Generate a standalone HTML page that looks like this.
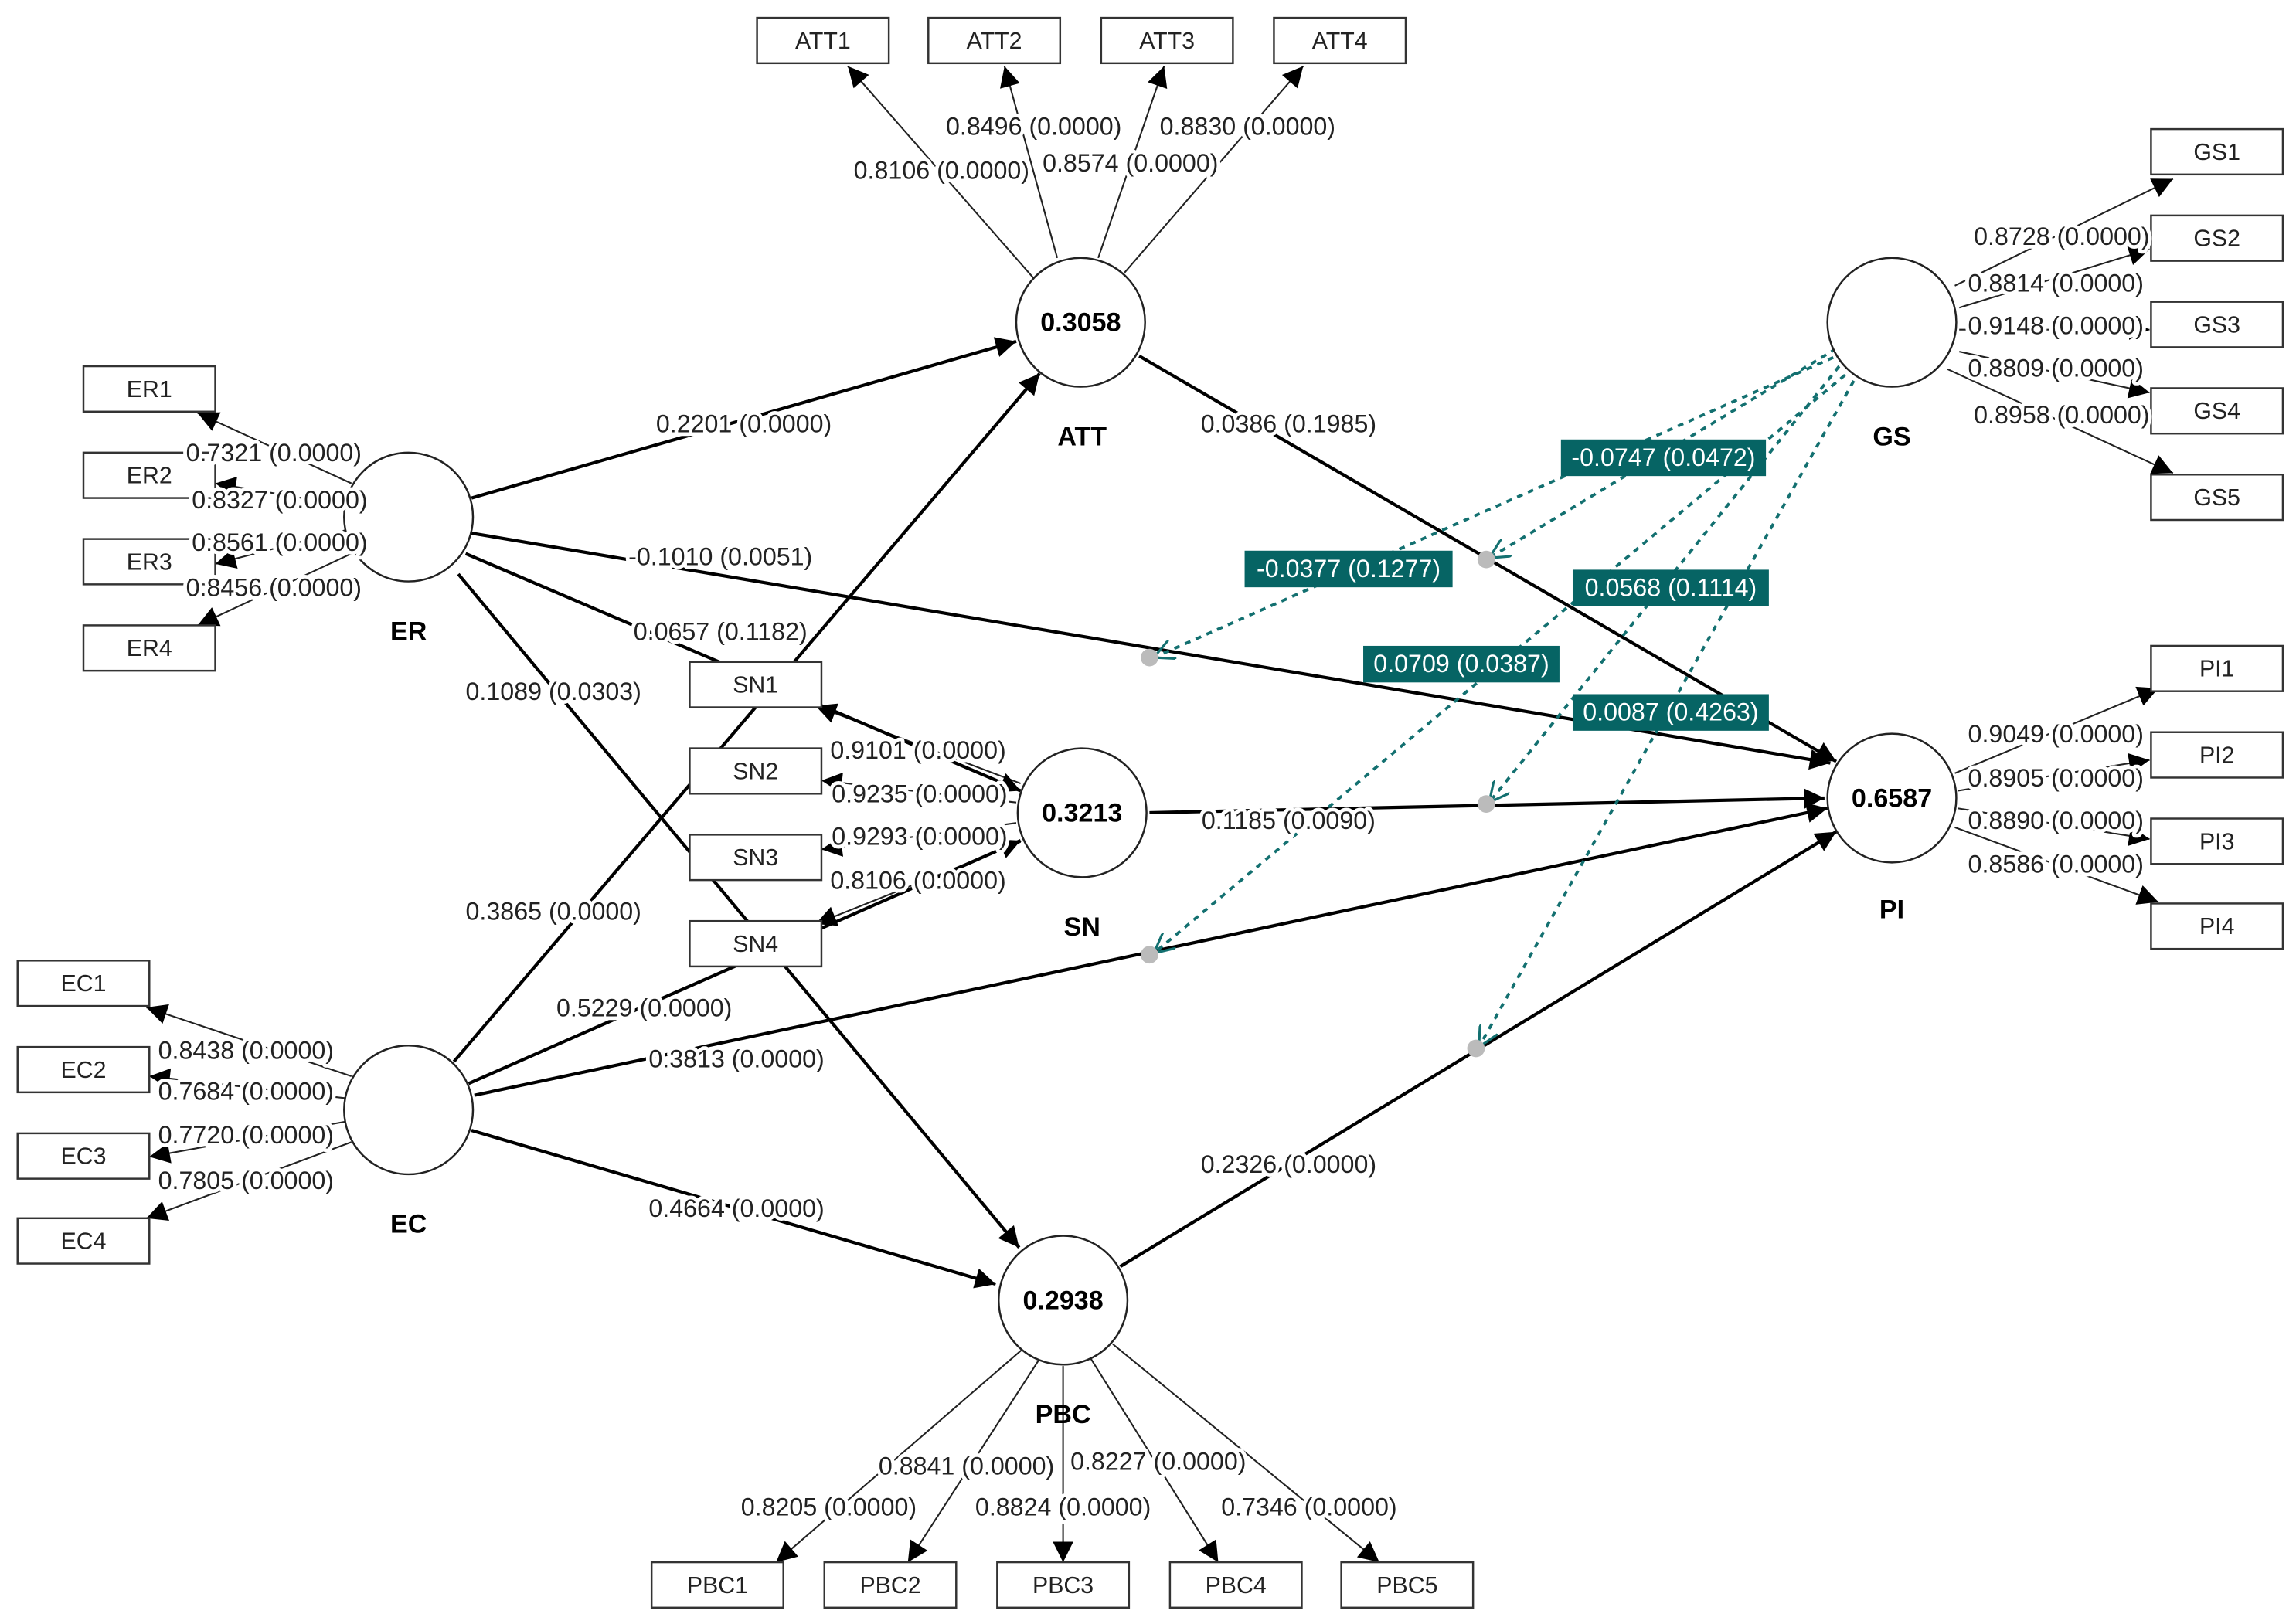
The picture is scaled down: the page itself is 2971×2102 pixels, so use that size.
<!DOCTYPE html>
<html><head><meta charset="utf-8"><style>
html,body{margin:0;padding:0;background:#fff;}
svg{display:block;}
text{font-family:"Liberation Sans",sans-serif;}
.l{font-size:17px;fill:#222;text-anchor:middle;paint-order:stroke;stroke:#fff;stroke-width:5px;stroke-linejoin:round;}
.b{font-size:16px;fill:#222;text-anchor:middle;}
.n{font-size:18px;font-weight:bold;fill:#000;text-anchor:middle;}
.t{font-size:17px;fill:#fff;text-anchor:middle;}
.e{stroke:#000;stroke-width:2.2;fill:none;}
.o{stroke:#222;stroke-width:1.1;fill:none;}
.d{stroke:#137070;stroke-width:2;stroke-dasharray:4 4;fill:none;}
</style></head><body>
<svg width="2971" height="2102" viewBox="0 0 1568 1109" xmlns="http://www.w3.org/2000/svg">
<defs>
<marker id="A" viewBox="0 0 10 10" refX="10" refY="5" markerWidth="16" markerHeight="14" orient="auto" markerUnits="userSpaceOnUse"><path d="M0,0L10,5L0,10z" fill="#000"/></marker>
<marker id="s" viewBox="0 0 10 10" refX="10" refY="5" markerWidth="14" markerHeight="14" orient="auto" markerUnits="userSpaceOnUse"><path d="M0,0L10,5L0,10" fill="none" stroke="#137070" stroke-width="1.2"/></marker>
</defs>
<g class="o" marker-end="url(#A)">
<line x1="722" y1="176" x2="686" y2="45"/>
<line x1="750" y1="176" x2="795" y2="45"/>
<line x1="768" y1="186" x2="890" y2="45"/>
<line x1="706" y1="190" x2="579" y2="45"/>
<line x1="1335" y1="195" x2="1484" y2="122"/>
<line x1="1338" y1="210" x2="1468" y2="170"/>
<line x1="1338" y1="225" x2="1468" y2="225"/>
<line x1="1338" y1="240" x2="1468" y2="268"/>
<line x1="1330" y1="252" x2="1484" y2="323"/>
<line x1="1335" y1="528" x2="1474" y2="470"/>
<line x1="1337" y1="540" x2="1468" y2="519"/>
<line x1="1337" y1="552" x2="1468" y2="573"/>
<line x1="1335" y1="565" x2="1474" y2="616"/>
<line x1="240" y1="330" x2="135" y2="282"/>
<line x1="236" y1="345" x2="147" y2="330"/>
<line x1="236" y1="362" x2="147" y2="385"/>
<line x1="240" y1="378" x2="135" y2="427"/>
<line x1="240" y1="735" x2="100" y2="688"/>
<line x1="236" y1="750" x2="102" y2="735"/>
<line x1="236" y1="766" x2="102" y2="790"/>
<line x1="240" y1="780" x2="100" y2="832"/>
<line x1="697" y1="535" x2="557" y2="482"/>
<line x1="694" y1="548" x2="561" y2="533"/>
<line x1="694" y1="562" x2="561" y2="580"/>
<line x1="697" y1="575" x2="557" y2="631"/>
<line x1="700" y1="920" x2="530" y2="1067"/>
<line x1="710" y1="928" x2="620" y2="1067"/>
<line x1="726" y1="933" x2="726" y2="1067"/>
<line x1="745" y1="928" x2="832" y2="1067"/>
<line x1="760" y1="918" x2="942" y2="1067"/>
</g>
<g class="e" marker-end="url(#A)">
<line x1="322" y1="340" x2="694" y2="233"/>
<line x1="322" y1="364" x2="1250" y2="521"/>
<line x1="318" y1="378" x2="697" y2="540"/>
<line x1="313" y1="392" x2="696" y2="852"/>
<line x1="310" y1="725" x2="710" y2="255"/>
<line x1="320" y1="740" x2="697" y2="574"/>
<line x1="324" y1="748" x2="1248" y2="552"/>
<line x1="322" y1="772" x2="680" y2="877"/>
<line x1="778" y1="243" x2="1254" y2="520"/>
<line x1="785" y1="555" x2="1246" y2="545"/>
<line x1="765" y1="865" x2="1254" y2="568"/>
</g>
<g class="d" marker-end="url(#s)">
<line x1="1254" y1="238" x2="1017" y2="381"/>
<line x1="1252" y1="244" x2="788" y2="449"/>
<line x1="1256" y1="250" x2="1017" y2="548"/>
<line x1="1260" y1="256" x2="788" y2="651"/>
<line x1="1266" y1="260" x2="1010" y2="715"/>
</g>
<g fill="#bbb"><circle cx="1015" cy="382" r="6"/><circle cx="785" cy="449" r="6"/><circle cx="1015" cy="549" r="6"/><circle cx="785" cy="652" r="6"/><circle cx="1008" cy="716" r="6"/></g>
<g fill="#fff" stroke="#222" stroke-width="1.3">
<circle cx="738" cy="220" r="44"/><circle cx="279" cy="353" r="44"/><circle cx="739" cy="555" r="44"/><circle cx="279" cy="758" r="44"/><circle cx="726" cy="888" r="44"/><circle cx="1292" cy="545" r="44"/><circle cx="1292" cy="220" r="44"/>
</g>
<text class="n" x="738" y="226">0.3058</text><text class="n" x="739" y="561">0.3213</text><text class="n" x="726" y="894">0.2938</text><text class="n" x="1292" y="551">0.6587</text>
<text class="n" x="739" y="304">ATT</text><text class="n" x="279" y="437">ER</text><text class="n" x="739" y="639">SN</text><text class="n" x="279" y="842">EC</text><text class="n" x="726" y="972">PBC</text><text class="n" x="1292" y="627">PI</text><text class="n" x="1292" y="304">GS</text>
<g fill="#fff" stroke="#333" stroke-width="1.3">
<rect x="517" y="12" width="90" height="31"/><rect x="634" y="12" width="90" height="31"/><rect x="752" y="12" width="90" height="31"/><rect x="870" y="12" width="90" height="31"/>
<rect x="1469" y="88" width="90" height="31"/><rect x="1469" y="147" width="90" height="31"/><rect x="1469" y="206" width="90" height="31"/><rect x="1469" y="265" width="90" height="31"/><rect x="1469" y="324" width="90" height="31"/>
<rect x="1469" y="441" width="90" height="31"/><rect x="1469" y="500" width="90" height="31"/><rect x="1469" y="559" width="90" height="31"/><rect x="1469" y="617" width="90" height="31"/>
<rect x="57" y="250" width="90" height="31"/><rect x="57" y="309" width="90" height="31"/><rect x="57" y="368" width="90" height="31"/><rect x="57" y="427" width="90" height="31"/>
<rect x="12" y="656" width="90" height="31"/><rect x="12" y="715" width="90" height="31"/><rect x="12" y="774" width="90" height="31"/><rect x="12" y="832" width="90" height="31"/>
<rect x="471" y="452" width="90" height="31"/><rect x="471" y="511" width="90" height="31"/><rect x="471" y="570" width="90" height="31"/><rect x="471" y="629" width="90" height="31"/>
<rect x="445" y="1067" width="90" height="31"/><rect x="563" y="1067" width="90" height="31"/><rect x="681" y="1067" width="90" height="31"/><rect x="799" y="1067" width="90" height="31"/><rect x="916" y="1067" width="90" height="31"/>
</g>
<g class="b">
<text x="562" y="33">ATT1</text><text x="679" y="33">ATT2</text><text x="797" y="33">ATT3</text><text x="915" y="33">ATT4</text>
<text x="1514" y="109">GS1</text><text x="1514" y="168">GS2</text><text x="1514" y="227">GS3</text><text x="1514" y="286">GS4</text><text x="1514" y="345">GS5</text>
<text x="1514" y="462">PI1</text><text x="1514" y="521">PI2</text><text x="1514" y="580">PI3</text><text x="1514" y="638">PI4</text>
<text x="102" y="271">ER1</text><text x="102" y="330">ER2</text><text x="102" y="389">ER3</text><text x="102" y="448">ER4</text>
<text x="57" y="677">EC1</text><text x="57" y="736">EC2</text><text x="57" y="795">EC3</text><text x="57" y="853">EC4</text>
<text x="516" y="473">SN1</text><text x="516" y="532">SN2</text><text x="516" y="591">SN3</text><text x="516" y="650">SN4</text>
<text x="490" y="1088">PBC1</text><text x="608" y="1088">PBC2</text><text x="726" y="1088">PBC3</text><text x="844" y="1088">PBC4</text><text x="961" y="1088">PBC5</text>
</g>
<g class="l">
<text x="706" y="92">0.8496 (0.0000)</text><text x="852" y="92">0.8830 (0.0000)</text><text x="643" y="122">0.8106 (0.0000)</text><text x="772" y="117">0.8574 (0.0000)</text>
<text x="1408" y="167">0.8728 (0.0000)</text><text x="1404" y="199">0.8814 (0.0000)</text><text x="1404" y="228">0.9148 (0.0000)</text><text x="1404" y="257">0.8809 (0.0000)</text><text x="1408" y="289">0.8958 (0.0000)</text>
<text x="1404" y="507">0.9049 (0.0000)</text><text x="1404" y="537">0.8905 (0.0000)</text><text x="1404" y="566">0.8890 (0.0000)</text><text x="1404" y="596">0.8586 (0.0000)</text>
<text x="187" y="315">0.7321 (0.0000)</text><text x="191" y="347">0.8327 (0.0000)</text><text x="191" y="376">0.8561 (0.0000)</text><text x="187" y="407">0.8456 (0.0000)</text>
<text x="168" y="723">0.8438 (0.0000)</text><text x="168" y="751">0.7684 (0.0000)</text><text x="168" y="781">0.7720 (0.0000)</text><text x="168" y="812">0.7805 (0.0000)</text>
<text x="627" y="518">0.9101 (0.0000)</text><text x="628" y="548">0.9235 (0.0000)</text><text x="628" y="577">0.9293 (0.0000)</text><text x="627" y="607">0.8106 (0.0000)</text>
<text x="660" y="1007">0.8841 (0.0000)</text><text x="566" y="1035">0.8205 (0.0000)</text><text x="791" y="1004">0.8227 (0.0000)</text><text x="726" y="1035">0.8824 (0.0000)</text><text x="894" y="1035">0.7346 (0.0000)</text>
<text x="508" y="295">0.2201 (0.0000)</text><text x="492" y="386">-0.1010 (0.0051)</text><text x="492" y="437">0.0657 (0.1182)</text><text x="378" y="478">0.1089 (0.0303)</text>
<text x="378" y="628">0.3865 (0.0000)</text><text x="440" y="694">0.5229 (0.0000)</text><text x="503" y="729">0.3813 (0.0000)</text><text x="503" y="831">0.4664 (0.0000)</text>
<text x="880" y="295">0.0386 (0.1985)</text><text x="880" y="566">0.1185 (0.0090)</text><text x="880" y="801">0.2326 (0.0000)</text>
</g>
<g fill="#066464">
<rect x="1066" y="300" width="140" height="25"/><rect x="850" y="376" width="142" height="25"/><rect x="1074" y="389" width="134" height="25"/><rect x="931" y="441" width="134" height="25"/><rect x="1074" y="474" width="134" height="25"/>
</g>
<g class="t">
<text x="1136" y="318">-0.0747 (0.0472)</text><text x="921" y="394">-0.0377 (0.1277)</text><text x="1141" y="407">0.0568 (0.1114)</text><text x="998" y="459">0.0709 (0.0387)</text><text x="1141" y="492">0.0087 (0.4263)</text>
</g>
</svg>
</body></html>
